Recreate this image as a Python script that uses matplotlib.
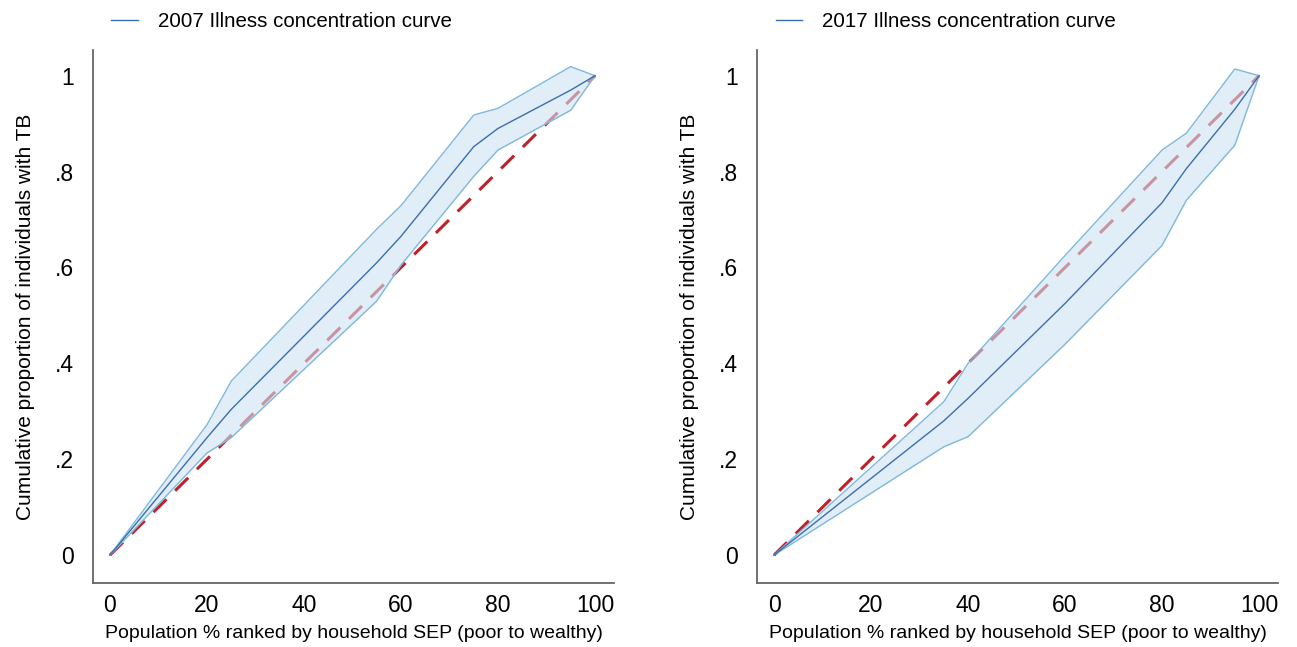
import matplotlib
matplotlib.use("Agg")
import matplotlib.pyplot as plt

plt.rcParams['font.family'] = ['Liberation Sans', 'DejaVu Sans']

# 2007 curve and confidence band
x07 = [0, 20, 25, 55, 60, 75, 80, 95, 100]
curve07 = [0, 0.245, 0.304, 0.61, 0.665, 0.852, 0.89, 0.97, 1]
upper07 = [0, 0.272, 0.363, 0.68, 0.729, 0.918, 0.932, 1.019, 1]
lower07 = [0, 0.213, 0.245, 0.53, 0.605, 0.79, 0.845, 0.928, 1]

# 2017 curve and confidence band
x17 = [0, 35, 40, 60, 80, 85, 95, 100]
curve17 = [0, 0.28, 0.327, 0.525, 0.735, 0.806, 0.93, 1]
upper17 = [0, 0.32, 0.40, 0.625, 0.845, 0.88, 1.014, 1]
lower17 = [0, 0.226, 0.247, 0.44, 0.646, 0.74, 0.855, 1]

equality = [0, 100]
yticks = [0, 0.2, 0.4, 0.6, 0.8, 1]
ytick_labels = ["0", ".2", ".4", ".6", ".8", "1"]
xticks = [0, 20, 40, 60, 80, 100]

fig = plt.figure(figsize=(12.97, 6.47), dpi=100)
ax1 = fig.add_axes([0.0717, 0.099, 0.402, 0.824])
ax2 = fig.add_axes([0.5837, 0.099, 0.402, 0.824])

panels = [(ax1, "2007", x07, curve07, upper07, lower07),
          (ax2, "2017", x17, curve17, upper17, lower17)]

for ax, year, x, c, up, lo in panels:
    # line of equality first, band drawn over it
    ax.plot(equality, [0, 1], color='#c0202a', lw=2.2, dashes=(6, 4), zorder=1)
    ax.fill_between(x, lo, up, color='#cfe3f3', alpha=0.6, lw=0, zorder=2)
    ax.plot(x, up, color='#7fb8dc', lw=1, zorder=3)
    ax.plot(x, lo, color='#7fb8dc', lw=1, zorder=3)
    line, = ax.plot(x, c, color='#3a6fb0', lw=1, zorder=4)

    ax.set_xlim(-3.5, 104)
    ax.set_ylim(-0.058, 1.054)
    ax.set_xticks(xticks)
    ax.set_yticks(yticks)
    ax.set_yticklabels(ytick_labels)
    ax.tick_params(length=0, labelsize=16.5, pad=14)
    ax.tick_params(axis='x', pad=8)
    for s in ['top', 'right']:
        ax.spines[s].set_visible(False)
    for s in ['left', 'bottom']:
        ax.spines[s].set_color('#666666')
        ax.spines[s].set_linewidth(1.3)
    ax.set_xlabel("Population % ranked by household SEP (poor to wealthy)",
                  fontsize=14, labelpad=6)
    ax.set_ylabel("Cumulative proportion of individuals with TB",
                  fontsize=15, labelpad=14)
    ax.legend([line], [year + " Illness concentration curve"],
              loc='lower left', bbox_to_anchor=(0.0, 1.0), frameon=False,
              fontsize=14.8, handlelength=1.27, handletextpad=1.0)

fig.savefig("out.png", dpi=100)
